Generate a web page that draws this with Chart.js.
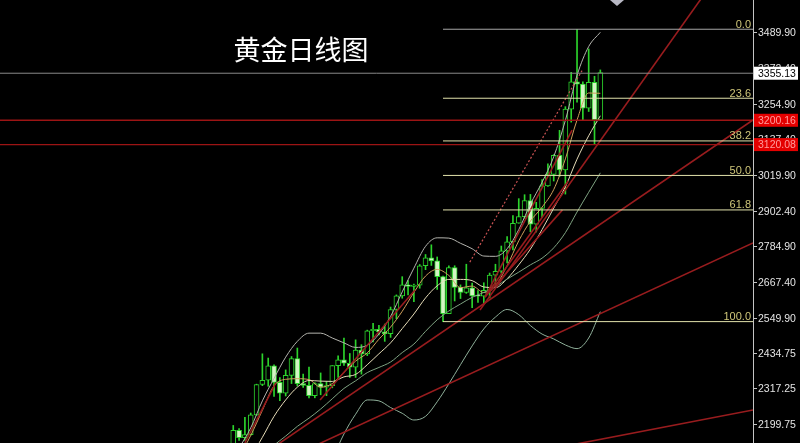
<!DOCTYPE html>
<html>
<head>
<meta charset="utf-8">
<script src="https://cdn.jsdelivr.net/npm/chart.js@4.4.1/dist/chart.umd.min.js"></script>
<style>
  html, body { margin: 0; padding: 0; background: #000; }
  #wrap { width: 800px; height: 443px; }
</style>
</head>
<body>
<div id="wrap"><canvas id="goldChart" width="800" height="443"></canvas></div>
<script>
// weekly bars, first one = week of 2023-12-04
const weeks = ['23-12-04','23-12-11','23-12-18','23-12-25','24-01-01','24-01-08','24-01-15','24-01-22','24-01-29','24-02-05',
  '24-02-12','24-02-19','24-02-26','24-03-04','24-03-11','24-03-18','24-03-25','24-04-01','24-04-08','24-04-15',
  '24-04-22','24-04-29','24-05-06','24-05-13','24-05-20','24-05-27','24-06-03','24-06-10','24-06-17','24-06-24',
  '24-07-01','24-07-08','24-07-15','24-07-22','24-07-29','24-08-05','24-08-12','24-08-19','24-08-26','24-09-02',
  '24-09-09','24-09-16','24-09-23','24-09-30','24-10-07','24-10-14','24-10-21','24-10-28','24-11-04','24-11-11',
  '24-11-18','24-11-25','24-12-02','24-12-09','24-12-16','24-12-23','24-12-30','25-01-06','25-01-13','25-01-20',
  '25-01-27','25-02-03','25-02-10','25-02-17','25-02-24','25-03-03','25-03-10','25-03-17','25-03-24','25-03-31',
  '25-04-07','25-04-14','25-04-21','25-04-28','25-05-05','25-05-12','25-05-19'];

const opens = [2072,2004,2019,2053,2063,2045,2049,2029,2018,2039,2024,2013,2035,2083,2179,2155,2165,2230,2330,2344,
  2391,2337,2301,2360,2415,2333,2327,2293,2333,2321,2326,2392,2411,2400,2387,2443,2431,2507,2512,2503,
  2497,2577,2622,2658,2653,2657,2721,2747,2737,2685,2563,2715,2650,2633,2648,2622,2621,2640,2690,2703,
  2770,2800,2861,2883,2936,2858,2910,2984,3022,3085,3037,3237,3327,3319,3240,3325,3202];
const highs = [2135,2047,2070,2088,2079,2062,2062,2036,2065,2044,2031,2041,2088,2195,2185,2222,2236,2331,2431,2417,
  2395,2353,2378,2422,2450,2364,2387,2336,2368,2339,2392,2424,2483,2432,2477,2461,2509,2531,2525,2529,
  2585,2625,2685,2672,2661,2725,2758,2790,2750,2687,2721,2721,2658,2726,2664,2639,2665,2697,2726,2786,
  2817,2886,2942,2955,2956,2930,3005,3057,3087,3167,3245,3358,3500,3327,3435,3345,3366];
const lows = [1995,1973,2016,2047,2024,2013,2002,2010,2016,2014,1984,2009,2025,2078,2146,2146,2163,2228,2326,2324,
  2291,2277,2292,2333,2325,2320,2286,2286,2296,2293,2319,2353,2393,2353,2353,2364,2425,2470,2493,2472,
  2485,2546,2614,2625,2603,2647,2708,2722,2643,2537,2564,2605,2613,2630,2583,2600,2597,2615,2656,2697,
  2730,2773,2861,2877,2833,2832,2880,2982,3000,3015,2957,3194,3260,3202,3229,3121,3205];
const closes = [2004,2019,2053,2063,2045,2049,2029,2018,2039,2024,2013,2035,2083,2179,2155,2165,2230,2330,2344,2391,
  2337,2301,2360,2415,2333,2327,2293,2333,2321,2326,2392,2411,2400,2387,2443,2431,2507,2512,2503,2497,
  2577,2622,2658,2653,2657,2721,2747,2737,2685,2563,2715,2650,2633,2648,2622,2621,2640,2690,2703,2770,
  2800,2861,2883,2936,2858,2910,2984,3022,3085,3037,3237,3327,3319,3240,3325,3202,3357];

// indicator lines read every second week
const lineIdx = [12,14,16,18,20,22,24,26,28,30,32,34,36,38,40,42,44,46,48,50,52,54,56,58,60,62,64,66,68,70,72,74,76];
const ma5  = [2039,2093,2162,2245,2326,2347,2349,2346,2321,2333,2370,2407,2434,2479,2519,2571,2633,2687,2709,2689,2649,2654,2633,2655,2721,2803,2868,2914,2972,3073,3201,3290,3289];
const ma10 = [2040,2062,2094,2156,2225,2279,2321,2343,2341,2340,2355,2363,2395,2431,2467,2514,2562,2615,2655,2676,2676,2672,2651,2649,2678,2724,2776,2840,2911,2981,3072,3149,3215];
const ma20 = [2012,2031,2057,2096,2130,2160,2192,2219,2249,2283,2317,2342,2369,2386,2404,2435,2463,2505,2543,2572,2595,2617,2633,2652,2677,2700,2724,2746,2780,2830,2898,2963,3027];
const bandUp = [2062,2121,2187,2276,2350,2420,2472,2499,2499,2483,2467,2452,2459,2496,2554,2635,2713,2785,2813,2812,2795,2777,2753,2752,2777,2840,2924,2996,3080,3200,3348,3443,3490];
const bandLow = [1962,1941,1927,1916,1910,1900,1912,1939,1999,2083,2167,2232,2279,2276,2254,2235,2213,2225,2273,2332,2395,2457,2513,2552,2577,2560,2524,2496,2480,2460,2448,2483,2570];

// fibonacci from the 2537 low to the 3500 high
const fibHigh = 3500, fibLow = 2537, fibStart = 49;
const fibLevels = [0, 23.6, 38.2, 50, 61.8, 100];
const fibTexts = ['0.0', '23.6', '38.2', '50.0', '61.8', '100.0'];

// trend lines: [startIdx, startPrice, endIdx, endPrice]
const trendLines = [
  [55.35, 2575, 95.2, 3652],
  [16.7, 2081, 102.2, 3201],
  [26.2, 2121, 102.2, 2796],
  [70.8, 2130, 102.2, 2246],
  [56.2, 2618, 71.15, 3168],
  [56.2, 2618, 70.5, 3000],
  [56.2, 2618, 69.5, 2905],
  [15.0, 2138, 20.3, 2335],
  [27.9, 2279, 44.2, 2641]
];
const dashedLine = [53.6, 2733, 72.9, 3365];

const lastPrice = 3355.13;
const redLevels = [3200.16, 3120.08];
const tickVals = [3489.90, 3372.40, 3254.90, 3137.40, 3019.90, 2902.40, 2784.90, 2667.40, 2549.90, 2434.75, 2317.25, 2199.75];

const xMin = -27.03, xMax = 102.2;
const yMin = 2137.2, yMax = 3596.3;

const green = '#2cd42c';
const upIdx = closes.map((c, i) => c >= opens[i]);

const wicks = weeks.map((w, i) => ({ x: i, y: [lows[i], highs[i]] }));
const bodies = weeks.map((w, i) => ({ x: i, y: [opens[i], closes[i]] }));
const pts = arr => lineIdx.map((x, i) => ({ x: x, y: arr[i] }));
const hline = (v, from) => [{ x: from, y: v }, { x: xMax, y: v }];

function lineSet(data, color, width, dash) {
  return { type: 'line', data: data, borderColor: color, borderWidth: width || 1, borderDash: dash || [],
    pointRadius: 0, tension: 0, fill: false, clip: 0, order: 0 };
}

const datasets = [
  { label: 'wick', data: wicks, backgroundColor: green, borderWidth: 0, barThickness: 1, grouped: false, clip: 0, order: 3 },
  { label: 'body', data: bodies, grouped: false, clip: 0, order: 2, barThickness: 5, minBarLength: 1,
    backgroundColor: upIdx.map(u => u ? '#000000' : '#d4f5c4'),
    borderColor: green, borderWidth: 1, borderSkipped: false }
];

datasets.push(lineSet(hline(lastPrice, xMin), '#8a8a8a', 1));
redLevels.forEach(v => datasets.push(lineSet(hline(v, xMin), '#9c1414', 1.3)));
fibLevels.forEach(l => {
  const v = fibHigh - (fibHigh - fibLow) * l / 100;
  datasets.push(lineSet(hline(v, fibStart), l === 0 ? '#a6a6a6' : '#e2e2ac', 1));
});
trendLines.forEach(t => datasets.push(lineSet([{ x: t[0], y: t[1] }, { x: t[2], y: t[3] }], '#981c1e', 1.6)));
datasets.push(lineSet([{ x: dashedLine[0], y: dashedLine[1] }, { x: dashedLine[2], y: dashedLine[3] }], '#c85252', 1.2, [2, 2]));

const curves = [
  [bandUp, '#b4b4ae'], [bandLow, '#8fb09a'], [ma20, '#7fa382'], [ma10, '#e6dcb8'], [ma5, '#cf9f5c']
];
curves.forEach(c => {
  const ds = lineSet(pts(c[0]), c[1], 1);
  ds.tension = 0.35;
  ds.cubicInterpolationMode = 'monotone';
  datasets.push(ds);
});

const overlay = {
  id: 'overlay',
  afterDraw(chart) {
    const ctx = chart.ctx, y = chart.scales.y, area = chart.chartArea;
    ctx.save();

    // title
    ctx.fillStyle = '#ffffff';
    ctx.font = '27px "Noto Sans CJK SC"';
    ctx.textAlign = 'center';
    ctx.textBaseline = 'middle';
    ctx.fillText('黄金日线图', 301, 50);

    // fib labels
    ctx.font = '11px "Liberation Sans"';
    ctx.fillStyle = '#cfc679';
    ctx.textAlign = 'right';
    ctx.textBaseline = 'bottom';
    fibLevels.forEach((l, i) => {
      const v = fibHigh - (fibHigh - fibLow) * l / 100;
      ctx.fillText(fibTexts[i], area.right - 2, y.getPixelForValue(v) + 1);
    });

    // price axis
    ctx.strokeStyle = '#c4c4c4';
    ctx.lineWidth = 1;
    ctx.beginPath();
    ctx.moveTo(area.right + 0.5, 0);
    ctx.lineTo(area.right + 0.5, chart.height);
    ctx.stroke();
    ctx.font = '10.5px "Liberation Sans"';
    ctx.textAlign = 'left';
    ctx.textBaseline = 'middle';
    tickVals.forEach(v => {
      const py = Math.round(y.getPixelForValue(v)) + 0.5;
      ctx.beginPath();
      ctx.moveTo(area.right, py);
      ctx.lineTo(area.right + 4, py);
      ctx.stroke();
      ctx.fillStyle = '#e4e4e4';
      ctx.fillText(v.toFixed(2), area.right + 5, py + 1);
    });

    const tag = (v, bg, fg) => {
      const py = y.getPixelForValue(v);
      ctx.fillStyle = bg;
      ctx.fillRect(area.right + 1, py - 6.5, 44, 13);
      ctx.fillStyle = fg;
      ctx.fillText(v.toFixed(2), area.right + 5, py + 0.5);
    };
    tag(lastPrice, '#ffffff', '#000000');
    redLevels.forEach(v => tag(v, '#e40000', '#ff9c9c'));

    // chart shift marker
    ctx.fillStyle = '#b8b8c4';
    ctx.beginPath();
    ctx.moveTo(610, 0);
    ctx.lineTo(624, 0);
    ctx.lineTo(617, 6);
    ctx.closePath();
    ctx.fill();
    ctx.restore();
  }
};

new Chart(document.getElementById('goldChart').getContext('2d'), {
  type: 'bar',
  data: { datasets: datasets },
  options: {
    responsive: false,
    animation: false,
    layout: { padding: { left: 0, right: 47, top: 0, bottom: 0 } },
    plugins: { legend: { display: false }, tooltip: { enabled: false } },
    scales: {
      x: { type: 'linear', min: xMin, max: xMax, offset: false, display: false },
      y: { type: 'linear', min: yMin, max: yMax, display: false }
    }
  },
  plugins: [overlay]
});
</script>
</body>
</html>
